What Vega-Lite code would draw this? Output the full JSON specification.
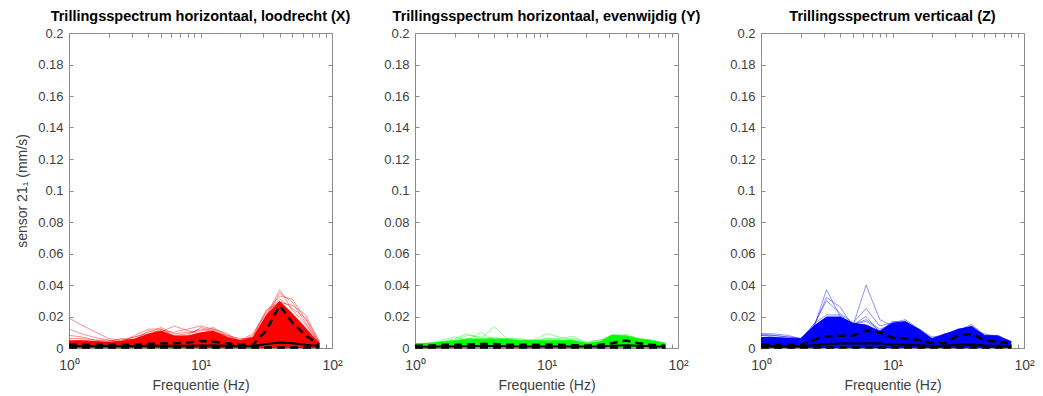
{
"$schema": "https://vega.github.io/schema/vega-lite/v6.json",
"padding": {"left": 15, "top": 8, "right": 5, "bottom": 5},
"background": "white",
"datasets": {"d": [
{"p":"X","f":1,"hi":0.005,"a":0.019,"b":0.012,"c":0.008,"d":0.006,"e":0.004,"up":0.002,"mn":0.0012,"lo":0.0003},
{"p":"X","f":1.25,"hi":0.005,"a":0.0145,"b":0.009,"c":0.007,"d":0.006,"e":0.005,"up":0.002,"mn":0.0012,"lo":0.0003},
{"p":"X","f":1.6,"hi":0.0045,"a":0.010,"b":0.0065,"c":0.005,"d":0.005,"e":0.004,"up":0.002,"mn":0.0012,"lo":0.0003},
{"p":"X","f":2,"hi":0.004,"a":0.006,"b":0.005,"c":0.004,"d":0.005,"e":0.003,"up":0.002,"mn":0.0012,"lo":0.0003},
{"p":"X","f":2.5,"hi":0.0045,"a":0.005,"b":0.004,"c":0.006,"d":0.004,"e":0.005,"up":0.002,"mn":0.0012,"lo":0.0003},
{"p":"X","f":3.15,"hi":0.006,"a":0.005,"b":0.007,"c":0.005,"d":0.008,"e":0.007,"up":0.002,"mn":0.0012,"lo":0.0003},
{"p":"X","f":4,"hi":0.009,"a":0.008,"b":0.010,"c":0.011,"d":0.012,"e":0.009,"up":0.0025,"mn":0.0014,"lo":0.0003},
{"p":"X","f":5,"hi":0.011,"a":0.012,"b":0.013,"c":0.010,"d":0.012,"e":0.011,"up":0.003,"mn":0.0015,"lo":0.0003},
{"p":"X","f":6.3,"hi":0.008,"a":0.007,"b":0.009,"c":0.014,"d":0.008,"e":0.010,"up":0.003,"mn":0.0014,"lo":0.0003},
{"p":"X","f":8,"hi":0.008,"a":0.008,"b":0.010,"c":0.011,"d":0.009,"e":0.012,"up":0.0035,"mn":0.0015,"lo":0.0003},
{"p":"X","f":10,"hi":0.010,"a":0.013,"b":0.011,"c":0.009,"d":0.012,"e":0.014,"up":0.0045,"mn":0.0016,"lo":0.0003},
{"p":"X","f":12.5,"hi":0.011,"a":0.011,"b":0.013,"c":0.012,"d":0.010,"e":0.012,"up":0.004,"mn":0.0016,"lo":0.0003},
{"p":"X","f":16,"hi":0.007,"a":0.007,"b":0.008,"c":0.009,"d":0.008,"e":0.007,"up":0.003,"mn":0.0014,"lo":0.0003},
{"p":"X","f":20,"hi":0.005,"a":0.004,"b":0.005,"c":0.004,"d":0.006,"e":0.005,"up":0.002,"mn":0.0012,"lo":0.0003},
{"p":"X","f":25,"hi":0.007,"a":0.006,"b":0.007,"c":0.008,"d":0.006,"e":0.009,"up":0.002,"mn":0.0013,"lo":0.0003},
{"p":"X","f":31.5,"hi":0.021,"a":0.020,"b":0.023,"c":0.024,"d":0.019,"e":0.022,"up":0.011,"mn":0.0025,"lo":0.0003},
{"p":"X","f":40,"hi":0.030,"a":0.037,"b":0.033,"c":0.029,"d":0.035,"e":0.031,"up":0.027,"mn":0.0035,"lo":0.0003},
{"p":"X","f":50,"hi":0.022,"a":0.024,"b":0.031,"c":0.027,"d":0.029,"e":0.025,"up":0.016,"mn":0.003,"lo":0.0003},
{"p":"X","f":63,"hi":0.013,"a":0.015,"b":0.018,"c":0.021,"d":0.016,"e":0.019,"up":0.008,"mn":0.002,"lo":0.0003},
{"p":"X","f":80,"hi":0.003,"a":0.003,"b":0.003,"c":0.004,"d":0.003,"e":0.004,"up":0.002,"mn":0.0012,"lo":0.0003},
{"p":"Y","f":1,"hi":0.003,"a":0.002,"b":0.003,"c":0.002,"d":0.002,"e":0.003,"up":0.0015,"mn":0.0008,"lo":0.0003},
{"p":"Y","f":1.25,"hi":0.003,"a":0.003,"b":0.003,"c":0.002,"d":0.003,"e":0.002,"up":0.0015,"mn":0.0008,"lo":0.0003},
{"p":"Y","f":1.6,"hi":0.004,"a":0.004,"b":0.005,"c":0.004,"d":0.003,"e":0.004,"up":0.002,"mn":0.001,"lo":0.0003},
{"p":"Y","f":2,"hi":0.005,"a":0.006,"b":0.007,"c":0.005,"d":0.004,"e":0.004,"up":0.002,"mn":0.001,"lo":0.0003},
{"p":"Y","f":2.5,"hi":0.006,"a":0.009,"b":0.005,"c":0.008,"d":0.005,"e":0.006,"up":0.0022,"mn":0.0011,"lo":0.0003},
{"p":"Y","f":3.15,"hi":0.006,"a":0.006,"b":0.010,"c":0.007,"d":0.005,"e":0.005,"up":0.0025,"mn":0.0012,"lo":0.0003},
{"p":"Y","f":4,"hi":0.006,"a":0.0135,"b":0.005,"c":0.006,"d":0.007,"e":0.005,"up":0.0025,"mn":0.0012,"lo":0.0003},
{"p":"Y","f":5,"hi":0.006,"a":0.006,"b":0.006,"c":0.005,"d":0.005,"e":0.004,"up":0.002,"mn":0.0011,"lo":0.0003},
{"p":"Y","f":6.3,"hi":0.005,"a":0.005,"b":0.006,"c":0.005,"d":0.004,"e":0.005,"up":0.002,"mn":0.001,"lo":0.0003},
{"p":"Y","f":8,"hi":0.005,"a":0.005,"b":0.004,"c":0.005,"d":0.005,"e":0.004,"up":0.002,"mn":0.001,"lo":0.0003},
{"p":"Y","f":10,"hi":0.005,"a":0.009,"b":0.006,"c":0.005,"d":0.006,"e":0.004,"up":0.002,"mn":0.001,"lo":0.0003},
{"p":"Y","f":12.5,"hi":0.005,"a":0.007,"b":0.006,"c":0.005,"d":0.005,"e":0.004,"up":0.002,"mn":0.001,"lo":0.0003},
{"p":"Y","f":16,"hi":0.005,"a":0.005,"b":0.0075,"c":0.006,"d":0.004,"e":0.005,"up":0.0018,"mn":0.001,"lo":0.0003},
{"p":"Y","f":20,"hi":0.003,"a":0.003,"b":0.003,"c":0.004,"d":0.003,"e":0.003,"up":0.0015,"mn":0.0009,"lo":0.0003},
{"p":"Y","f":25,"hi":0.004,"a":0.004,"b":0.004,"c":0.005,"d":0.003,"e":0.005,"up":0.002,"mn":0.001,"lo":0.0003},
{"p":"Y","f":31.5,"hi":0.0085,"a":0.006,"b":0.007,"c":0.008,"d":0.007,"e":0.006,"up":0.003,"mn":0.0014,"lo":0.0003},
{"p":"Y","f":40,"hi":0.008,"a":0.006,"b":0.007,"c":0.0085,"d":0.007,"e":0.008,"up":0.0048,"mn":0.0018,"lo":0.0003},
{"p":"Y","f":50,"hi":0.006,"a":0.005,"b":0.005,"c":0.006,"d":0.005,"e":0.006,"up":0.003,"mn":0.0014,"lo":0.0003},
{"p":"Y","f":63,"hi":0.005,"a":0.004,"b":0.004,"c":0.005,"d":0.004,"e":0.005,"up":0.002,"mn":0.0011,"lo":0.0003},
{"p":"Y","f":80,"hi":0.003,"a":0.003,"b":0.003,"c":0.003,"d":0.002,"e":0.003,"up":0.0015,"mn":0.0008,"lo":0.0003},
{"p":"Z","f":1,"hi":0.007,"a":0.009,"b":0.009,"c":0.008,"d":0.008,"e":0.006,"up":0.002,"mn":0.0012,"lo":0.0003},
{"p":"Z","f":1.25,"hi":0.007,"a":0.009,"b":0.008,"c":0.008,"d":0.007,"e":0.006,"up":0.002,"mn":0.0012,"lo":0.0003},
{"p":"Z","f":1.6,"hi":0.0065,"a":0.008,"b":0.007,"c":0.007,"d":0.006,"e":0.006,"up":0.002,"mn":0.0012,"lo":0.0003},
{"p":"Z","f":2,"hi":0.006,"a":0.006,"b":0.006,"c":0.006,"d":0.005,"e":0.006,"up":0.002,"mn":0.0012,"lo":0.0003},
{"p":"Z","f":2.5,"hi":0.014,"a":0.012,"b":0.013,"c":0.014,"d":0.015,"e":0.012,"up":0.005,"mn":0.0018,"lo":0.0003},
{"p":"Z","f":3.15,"hi":0.020,"a":0.037,"b":0.032,"c":0.030,"d":0.021,"e":0.018,"up":0.0075,"mn":0.0025,"lo":0.0003},
{"p":"Z","f":4,"hi":0.020,"a":0.020,"b":0.026,"c":0.022,"d":0.021,"e":0.019,"up":0.0078,"mn":0.0028,"lo":0.0003},
{"p":"Z","f":5,"hi":0.016,"a":0.015,"b":0.014,"c":0.016,"d":0.015,"e":0.015,"up":0.0078,"mn":0.0028,"lo":0.0003},
{"p":"Z","f":6.3,"hi":0.015,"a":0.018,"b":0.040,"c":0.025,"d":0.020,"e":0.017,"up":0.011,"mn":0.003,"lo":0.0003},
{"p":"Z","f":8,"hi":0.011,"a":0.012,"b":0.018,"c":0.014,"d":0.010,"e":0.011,"up":0.010,"mn":0.0028,"lo":0.0003},
{"p":"Z","f":10,"hi":0.016,"a":0.015,"b":0.014,"c":0.016,"d":0.017,"e":0.016,"up":0.0065,"mn":0.0022,"lo":0.0003},
{"p":"Z","f":12.5,"hi":0.017,"a":0.016,"b":0.017,"c":0.018,"d":0.016,"e":0.017,"up":0.006,"mn":0.002,"lo":0.0003},
{"p":"Z","f":16,"hi":0.012,"a":0.010,"b":0.011,"c":0.012,"d":0.010,"e":0.011,"up":0.005,"mn":0.0018,"lo":0.0003},
{"p":"Z","f":20,"hi":0.006,"a":0.006,"b":0.006,"c":0.007,"d":0.006,"e":0.006,"up":0.003,"mn":0.0013,"lo":0.0003},
{"p":"Z","f":25,"hi":0.009,"a":0.008,"b":0.009,"c":0.008,"d":0.009,"e":0.008,"up":0.003,"mn":0.0014,"lo":0.0003},
{"p":"Z","f":31.5,"hi":0.012,"a":0.011,"b":0.010,"c":0.012,"d":0.011,"e":0.012,"up":0.008,"mn":0.002,"lo":0.0003},
{"p":"Z","f":40,"hi":0.014,"a":0.014,"b":0.013,"c":0.012,"d":0.015,"e":0.013,"up":0.009,"mn":0.0022,"lo":0.0003},
{"p":"Z","f":50,"hi":0.008,"a":0.008,"b":0.008,"c":0.009,"d":0.008,"e":0.008,"up":0.005,"mn":0.0016,"lo":0.0003},
{"p":"Z","f":63,"hi":0.008,"a":0.007,"b":0.008,"c":0.007,"d":0.008,"e":0.007,"up":0.004,"mn":0.0014,"lo":0.0003},
{"p":"Z","f":80,"hi":0.004,"a":0.004,"b":0.004,"c":0.004,"d":0.004,"e":0.004,"up":0.003,"mn":0.0012,"lo":0.0003}
]},
"hconcat": [
{
"width": 263, "height": 315,
"data": {"name": "d"},
"transform": [{"filter": "datum.p == 'X'"}],
"title": "Trillingsspectrum horizontaal, loodrecht (X)",
"layer": [
{"mark": {"type": "area", "color": "#ff0000", "opacity": 1},
 "encoding": {
  "x": {"field": "f", "type": "quantitative", "scale": {"type": "log", "domain": [1, 100]},
   "axis": {"orient": "bottom", "values": [1,2,3,4,5,6,7,8,9,10,20,30,40,50,60,70,80,90,100], "labelExpr": "datum.value == 1 ? '10⁰' : datum.value == 10 ? '10¹' : datum.value == 100 ? '10²' : ''", "labelOverlap": false, "labelFlush": false, "labelFontSize": 14, "labelPadding": 14, "title": "Frequentie (Hz)"}},
  "y": {"field": "hi", "type": "quantitative", "scale": {"domain": [0, 0.2], "nice": false},
   "axis": {"orient": "left", "values": [0,0.02,0.04,0.06,0.08,0.1,0.12,0.14,0.16,0.18,0.2], "labelExpr": "format(datum.value, '.2~f')", "labelPadding": 10, "title": "sensor 21₁ (mm/s)", "titlePadding": 8}}}},
{"transform": [{"fold": ["a","b","c","d","e"], "as": ["s","v"]}],
 "mark": {"type": "line", "color": "#ff0000", "strokeWidth": 0.8, "opacity": 0.55},
 "encoding": {"x": {"field": "f", "type": "quantitative", "axis": null}, "y": {"field": "v", "type": "quantitative", "axis": null}, "detail": {"field": "s"}}},
{"mark": {"type": "line", "color": "#000000", "strokeWidth": 2.5, "strokeDash": [8,5]},
 "encoding": {"x": {"field": "f", "type": "quantitative", "axis": null}, "y": {"field": "up", "type": "quantitative", "axis": null}}},
{"mark": {"type": "line", "color": "#000000", "strokeWidth": 2},
 "encoding": {"x": {"field": "f", "type": "quantitative", "axis": null}, "y": {"field": "mn", "type": "quantitative", "axis": null}}},
{"mark": {"type": "line", "color": "#000000", "strokeWidth": 2.5, "strokeDash": [8,5]},
 "encoding": {"x": {"field": "f", "type": "quantitative", "axis": null}, "y": {"field": "lo", "type": "quantitative", "axis": null}}},
{"mark": {"type": "line", "opacity": 0},
 "encoding": {
  "x": {"field": "f", "type": "quantitative", "axis": {"orient": "top", "values": [1,2,3,4,5,6,7,8,9,10,20,30,40,50,60,70,80,90,100], "labels": false, "title": null}},
  "y": {"field": "hi", "type": "quantitative", "axis": {"orient": "right", "values": [0,0.02,0.04,0.06,0.08,0.1,0.12,0.14,0.16,0.18,0.2], "labels": false, "title": null}}}}
],
"resolve": {"axis": {"x": "independent", "y": "independent"}}
},
{
"width": 263, "height": 315,
"data": {"name": "d"},
"transform": [{"filter": "datum.p == 'Y'"}],
"title": "Trillingsspectrum horizontaal, evenwijdig (Y)",
"layer": [
{"mark": {"type": "area", "color": "#00ff00", "opacity": 1},
 "encoding": {
  "x": {"field": "f", "type": "quantitative", "scale": {"type": "log", "domain": [1, 100]},
   "axis": {"orient": "bottom", "values": [1,2,3,4,5,6,7,8,9,10,20,30,40,50,60,70,80,90,100], "labelExpr": "datum.value == 1 ? '10⁰' : datum.value == 10 ? '10¹' : datum.value == 100 ? '10²' : ''", "labelOverlap": false, "labelFlush": false, "labelFontSize": 14, "labelPadding": 14, "title": "Frequentie (Hz)"}},
  "y": {"field": "hi", "type": "quantitative", "scale": {"domain": [0, 0.2], "nice": false},
   "axis": {"orient": "left", "values": [0,0.02,0.04,0.06,0.08,0.1,0.12,0.14,0.16,0.18,0.2], "labelExpr": "format(datum.value, '.2~f')", "labelPadding": 10, "title": null}}}},
{"transform": [{"fold": ["a","b","c","d","e"], "as": ["s","v"]}],
 "mark": {"type": "line", "color": "#00ff00", "strokeWidth": 0.8, "opacity": 0.55},
 "encoding": {"x": {"field": "f", "type": "quantitative", "axis": null}, "y": {"field": "v", "type": "quantitative", "axis": null}, "detail": {"field": "s"}}},
{"mark": {"type": "line", "color": "#000000", "strokeWidth": 2.5, "strokeDash": [8,5]},
 "encoding": {"x": {"field": "f", "type": "quantitative", "axis": null}, "y": {"field": "up", "type": "quantitative", "axis": null}}},
{"mark": {"type": "line", "color": "#000000", "strokeWidth": 2},
 "encoding": {"x": {"field": "f", "type": "quantitative", "axis": null}, "y": {"field": "mn", "type": "quantitative", "axis": null}}},
{"mark": {"type": "line", "color": "#000000", "strokeWidth": 2.5, "strokeDash": [8,5]},
 "encoding": {"x": {"field": "f", "type": "quantitative", "axis": null}, "y": {"field": "lo", "type": "quantitative", "axis": null}}},
{"mark": {"type": "line", "opacity": 0},
 "encoding": {
  "x": {"field": "f", "type": "quantitative", "axis": {"orient": "top", "values": [1,2,3,4,5,6,7,8,9,10,20,30,40,50,60,70,80,90,100], "labels": false, "title": null}},
  "y": {"field": "hi", "type": "quantitative", "axis": {"orient": "right", "values": [0,0.02,0.04,0.06,0.08,0.1,0.12,0.14,0.16,0.18,0.2], "labels": false, "title": null}}}}
],
"resolve": {"axis": {"x": "independent", "y": "independent"}}
},
{
"width": 263, "height": 315,
"data": {"name": "d"},
"transform": [{"filter": "datum.p == 'Z'"}],
"title": "Trillingsspectrum verticaal (Z)",
"layer": [
{"mark": {"type": "area", "color": "#0000ff", "opacity": 1},
 "encoding": {
  "x": {"field": "f", "type": "quantitative", "scale": {"type": "log", "domain": [1, 100]},
   "axis": {"orient": "bottom", "values": [1,2,3,4,5,6,7,8,9,10,20,30,40,50,60,70,80,90,100], "labelExpr": "datum.value == 1 ? '10⁰' : datum.value == 10 ? '10¹' : datum.value == 100 ? '10²' : ''", "labelOverlap": false, "labelFlush": false, "labelFontSize": 14, "labelPadding": 14, "title": "Frequentie (Hz)"}},
  "y": {"field": "hi", "type": "quantitative", "scale": {"domain": [0, 0.2], "nice": false},
   "axis": {"orient": "left", "values": [0,0.02,0.04,0.06,0.08,0.1,0.12,0.14,0.16,0.18,0.2], "labelExpr": "format(datum.value, '.2~f')", "labelPadding": 10, "title": null}}}},
{"transform": [{"fold": ["a","b","c","d","e"], "as": ["s","v"]}],
 "mark": {"type": "line", "color": "#0000ff", "strokeWidth": 0.8, "opacity": 0.55},
 "encoding": {"x": {"field": "f", "type": "quantitative", "axis": null}, "y": {"field": "v", "type": "quantitative", "axis": null}, "detail": {"field": "s"}}},
{"mark": {"type": "line", "color": "#000000", "strokeWidth": 2.5, "strokeDash": [8,5]},
 "encoding": {"x": {"field": "f", "type": "quantitative", "axis": null}, "y": {"field": "up", "type": "quantitative", "axis": null}}},
{"mark": {"type": "line", "color": "#000000", "strokeWidth": 2},
 "encoding": {"x": {"field": "f", "type": "quantitative", "axis": null}, "y": {"field": "mn", "type": "quantitative", "axis": null}}},
{"mark": {"type": "line", "color": "#000000", "strokeWidth": 2.5, "strokeDash": [8,5]},
 "encoding": {"x": {"field": "f", "type": "quantitative", "axis": null}, "y": {"field": "lo", "type": "quantitative", "axis": null}}},
{"mark": {"type": "line", "opacity": 0},
 "encoding": {
  "x": {"field": "f", "type": "quantitative", "axis": {"orient": "top", "values": [1,2,3,4,5,6,7,8,9,10,20,30,40,50,60,70,80,90,100], "labels": false, "title": null}},
  "y": {"field": "hi", "type": "quantitative", "axis": {"orient": "right", "values": [0,0.02,0.04,0.06,0.08,0.1,0.12,0.14,0.16,0.18,0.2], "labels": false, "title": null}}}}
],
"resolve": {"axis": {"x": "independent", "y": "independent"}}
}
],
"spacing": 83,
"bounds": "flush",
"config": {
 "view": {"stroke": null},
 "axis": {"grid": false, "domainColor": "#8c8c8c", "tickColor": "#8c8c8c", "labelColor": "#404040", "titleColor": "#404040", "labelFont": "Liberation Sans", "titleFont": "Liberation Sans", "labelFontSize": 13, "titleFontSize": 14, "titleFontWeight": "normal", "tickSize": -4, "labelPadding": 8, "titlePadding": 6},
 "title": {"font": "Liberation Sans", "fontSize": 14.5, "fontWeight": "bold", "color": "#000000", "offset": 3}
}
}
